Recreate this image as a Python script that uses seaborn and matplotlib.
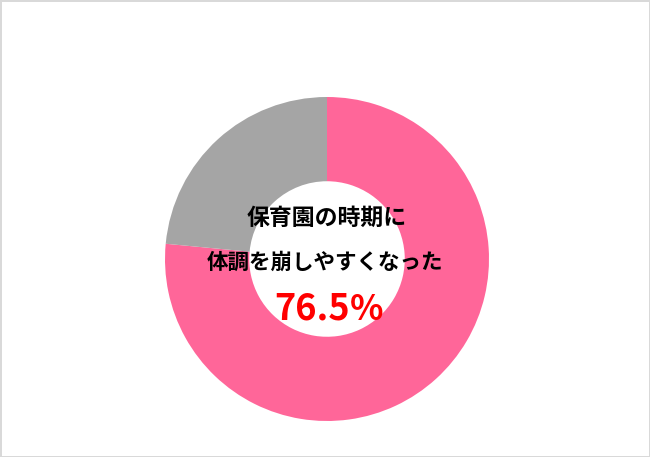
import matplotlib
matplotlib.use("Agg")

import matplotlib.pyplot as plt
import seaborn as sns

# data
labels = ["体調を崩しやすくなった", "その他"]
shares = [76.5, 23.5]
colors = ["#FF6699", "#A5A5A5"]
title_lines = ["保育園の時期に", "体調を崩しやすくなった"]
value_text = "76.5"

W, H = 650, 457

sns.set_theme(style="white")
plt.rcParams["font.family"] = ["Noto Sans CJK JP", "DejaVu Sans"]

fig = plt.figure(figsize=(W / 100, H / 100), dpi=100)
fig.patch.set_facecolor("white")
fig.patch.set_edgecolor("#D9D9D9")
fig.patch.set_linewidth(2.0)

ax = fig.add_axes([0, 0, 1, 1])
cx, cy, r = 327, H - 259, 162
ax.pie(
    shares,
    colors=colors,
    startangle=90,
    counterclock=False,
    center=(cx, cy),
    radius=r,
    wedgeprops=dict(width=r * 0.52, edgecolor="none"),
)
ax.set_xlim(0, W)
ax.set_ylim(0, H)
ax.set_aspect("equal")
ax.axis("off")

ax.text(cx, H - 218, title_lines[0], ha="center", va="center",
        fontsize=16.5, fontweight="bold", color="black")
ax.text(cx - 2, H - 262, title_lines[1], ha="center", va="center",
        fontsize=15.5, fontweight="bold", color="black")
ax.text(350, H - 320, value_text, ha="right", va="baseline",
        fontsize=26, fontweight="bold", color="#FF0000")
ax.text(350, H - 320, "%", ha="left", va="baseline",
        fontsize=25, fontweight="bold", color="#FF0000")

fig.savefig("out.png", dpi=100, facecolor="white", edgecolor="#D9D9D9")
